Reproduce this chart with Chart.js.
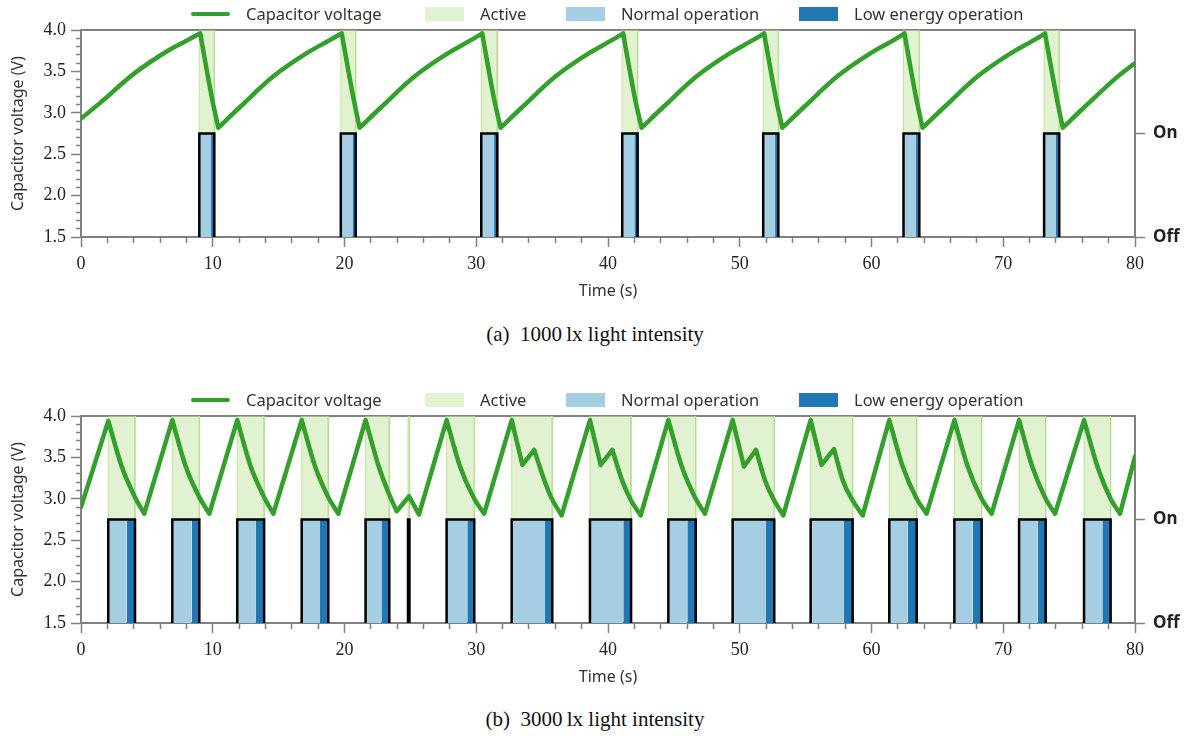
<!DOCTYPE html>
<html lang="en">
<head>
<meta charset="UTF-8">
<title>Capacitor voltage at 1000 lx and 3000 lx</title>
<script src="https://cdn.jsdelivr.net/npm/chart.js@4.4.0/dist/chart.umd.min.js"></script>
<style>
    body {
        margin: 0;
        background: #fff;
        width: 1190px;
        height: 736px;
        position: relative;
        overflow: hidden;
        font-family: "Noto Sans", sans-serif;
    }
    .panel {
        position: absolute;
        left: 0;
        width: 1190px;
        height: 305px;
    }
    .panel canvas {
        position: absolute;
        left: 0;
        top: 0;
    }
    .item {
        position: absolute;
        top: 2px;
        height: 23px;
        display: flex;
        align-items: center;
        font-size: 16.5px;
        color: #333;
        white-space: nowrap;
    }
    .swatch {
        width: 39px;
        height: 14px;
        margin-right: 16px;
    }
    .swatch.line {
        height: 4px;
        border-radius: 2px;
    }
    .caption {
        position: absolute;
        left: 0;
        width: 1190px;
        text-align: center;
        font-family: "Liberation Serif", serif;
        font-size: 21px;
        color: #111;
    }
</style>
</head>
<body>
    <div class="panel" id="panel1000" style="top:0px">
        <canvas id="chart1000" width="1190" height="305"></canvas>
    </div>
    <div class="caption" style="top:322px">(a)&ensp;1000&thinsp;lx light intensity</div>

    <div class="panel" id="panel3000" style="top:386px">
        <canvas id="chart3000" width="1190" height="305"></canvas>
    </div>
    <div class="caption" style="top:707px">(b)&ensp;3000&thinsp;lx light intensity</div>

<script>
// (a) 1000 lx: capacitor voltage trace
const time1000 = [0, 1.45, 4.0, 6.5, 8.0, 9.05, 9.45, 9.95, 10.42,
    12.07, 14.6, 17.13, 18.9, 19.79, 20.19, 20.69, 21.15,
    22.8, 25.33, 27.86, 29.63, 30.45, 30.85, 31.35, 31.85,
    33.5, 36.03, 38.56, 40.33, 41.15, 41.55, 42.05, 42.55,
    44.2, 46.73, 49.26, 51.03, 51.85, 52.25, 52.75, 53.23,
    54.88, 57.41, 59.94, 61.71, 62.5, 62.9, 63.4, 63.88,
    65.53, 68.06, 70.59, 72.36, 73.17, 73.57, 74.07, 74.52,
    76.17, 78.7, 80];
const volt1000 = [2.93, 3.12, 3.47, 3.74, 3.87, 3.96, 3.6, 3.17, 2.82,
    3.07, 3.44, 3.72, 3.88, 3.96, 3.6, 3.17, 2.82,
    3.07, 3.44, 3.72, 3.88, 3.96, 3.6, 3.17, 2.82,
    3.07, 3.44, 3.72, 3.88, 3.96, 3.6, 3.17, 2.82,
    3.07, 3.44, 3.72, 3.88, 3.96, 3.6, 3.17, 2.82,
    3.07, 3.44, 3.72, 3.88, 3.96, 3.6, 3.17, 2.82,
    3.07, 3.44, 3.72, 3.88, 3.96, 3.6, 3.17, 2.82,
    3.07, 3.44, 3.6];
// (a) active periods: start, switch to low energy, end
const onStart1000 = [8.98, 19.72, 30.38, 41.08, 51.78, 62.43, 73.1];
const lowStart1000 = [9.87, 20.6, 31.35, 42.0, 52.68, 63.38, 74.0];
const onEnd1000 = [10.12, 20.85, 31.6, 42.25, 52.93, 63.63, 74.25];

// (b) 3000 lx: capacitor voltage trace
const time3000 = [0, 2.07, 3.09, 4.10, 4.80, 6.93, 7.95, 8.98, 9.74,
    11.86, 12.88, 13.90, 14.60, 16.75, 17.77, 18.77, 19.53,
    21.60, 22.60, 23.40, 23.96, 24.90, 25.65, 27.75, 28.77, 29.85, 30.60,
    32.69, 33.50, 34.40, 35.20, 35.77, 36.48, 38.63, 39.44, 40.33, 41.10, 41.75, 42.48,
    44.58, 45.60, 46.66, 47.36, 49.46, 50.32, 51.23, 51.95, 52.62, 53.30,
    55.38, 56.21, 57.15, 57.85, 58.57, 59.33, 61.35, 62.37, 63.43, 64.18,
    66.29, 67.30, 68.36, 69.12, 71.20, 72.20, 73.22, 73.93,
    76.13, 77.15, 78.15, 78.86, 80];
const volt3000 = [2.90, 3.94, 3.39, 3.02, 2.82, 3.95, 3.39, 3.02, 2.82,
    3.95, 3.39, 3.02, 2.82, 3.95, 3.39, 3.02, 2.82,
    3.95, 3.39, 3.05, 2.85, 3.03, 2.81, 3.95, 3.39, 3.00, 2.82,
    3.95, 3.41, 3.59, 3.21, 2.99, 2.80, 3.95, 3.41, 3.59, 3.21, 2.98, 2.80,
    3.95, 3.39, 3.00, 2.82, 3.95, 3.39, 3.59, 3.21, 2.98, 2.80,
    3.95, 3.41, 3.60, 3.21, 2.98, 2.80, 3.95, 3.39, 3.00, 2.82,
    3.95, 3.39, 3.00, 2.82, 3.95, 3.39, 3.00, 2.82,
    3.95, 3.39, 3.00, 2.82, 3.51];
// (b) active periods
const onStart3000 = [2.07, 6.93, 11.86, 16.75, 21.6, 24.82, 27.75, 32.69, 38.63, 44.58, 49.46, 55.38, 61.35, 66.29, 71.2, 76.13];
const lowStart3000 = [3.47, 8.40, 13.28, 18.14, 22.8, 24.93, 29.32, 35.22, 41.16, 46.02, 51.99, 57.91, 62.74, 67.68, 72.61, 77.52];
const onEnd3000 = [4.10, 8.98, 13.9, 18.77, 23.4, 24.93, 29.85, 35.77, 41.75, 46.66, 52.62, 58.57, 63.43, 68.36, 73.22, 78.15];

// right axis state levels (in voltage units) and their labels
const stateLevels = [1.5, 2.75];
const stateLabels = ['Off', 'On'];

const legendLabels = ['Capacitor voltage', 'Active', 'Normal operation', 'Low energy operation'];

const GREEN = '#33a02c';
const ACTIVE = 'rgba(178, 223, 138, 0.4)';
const ACTIVE_EDGE = 'rgba(178, 223, 138, 0.8)';
const NORMAL = '#a6cee3';
const LOW = '#1f78b4';
const AXIS = '#808080';
const V_MIN = 1.5, V_MAX = 4.0, ON = stateLevels[1];

// corner points of a box, left edge up, across the top, right edge down
function box(x0, x1, y0, y1) {
    return [{x: x0, y: y0}, {x: x0, y: y1}, {x: x1, y: y1}, {x: x1, y: y0}];
}

// break the trace at every turning point so each rise / fall is smoothed on its own
function traceWithBreaks(t, v) {
    const pts = [];
    for (let i = 0; i < t.length; i++) {
        pts.push({x: t[i], y: v[i]});
        const turn = i > 0 && i < t.length - 1 && (v[i] - v[i - 1]) * (v[i + 1] - v[i]) < 0;
        if (turn) {
            pts.push({x: t[i], y: null});
            pts.push({x: t[i], y: v[i]});
        }
    }
    return pts;
}

function buildDatasets(t, v, onStart, lowStart, onEnd) {
    const sets = [{
        data: traceWithBreaks(t, v),
        borderColor: GREEN,
        borderWidth: 4.5,
        borderJoinStyle: 'round',
        borderCapStyle: 'round',
        pointRadius: 0,
        cubicInterpolationMode: 'monotone',
        tension: 0.4,
        spanGaps: false,
        fill: false,
        order: 0
    }];
    const outline = [];
    onStart.forEach((s, i) => {
        const e = onEnd[i], l = lowStart[i];
        sets.push({
            data: box(s, e, ON, V_MAX),
            backgroundColor: ACTIVE,
            borderColor: ACTIVE_EDGE,
            borderWidth: 1,
            pointRadius: 0,
            fill: {value: ON},
            order: 4
        });
        sets.push({
            data: box(s, l, V_MIN, ON),
            backgroundColor: NORMAL,
            borderColor: 'rgba(0,0,0,0)',
            borderWidth: 0,
            pointRadius: 0,
            fill: {value: V_MIN},
            order: 3
        });
        if (e > l) {
            sets.push({
                data: box(l, e, V_MIN, ON),
                backgroundColor: LOW,
                borderColor: 'rgba(0,0,0,0)',
                borderWidth: 0,
                pointRadius: 0,
                fill: {value: V_MIN},
                order: 2
            });
        }
        outline.push(...box(s, e, V_MIN, ON), {x: e, y: null});
    });
    sets.push({
        data: outline,
        borderColor: '#000',
        borderWidth: 2.5,
        borderJoinStyle: 'miter',
        pointRadius: 0,
        fill: false,
        spanGaps: false,
        order: 1
    });
    return sets;
}

const tickFont = {family: "'Liberation Serif', 'Times New Roman', serif", size: 18};
const titleFont = {family: "'Noto Sans', sans-serif", size: 16};
const isMajorX = c => c.tick && Math.round(c.tick.value) % 10 === 0;
const isMajorY = c => c.tick && Math.round(c.tick.value * 10) % 5 === 0;

function makeChart(id, datasets) {
    return new Chart(document.getElementById(id), {
        type: 'line',
        data: {datasets: datasets},
        options: {
            responsive: false,
            animation: false,
            events: [],
            layout: {padding: 0},
            plugins: {
                legend: {display: false},
                tooltip: {enabled: false}
            },
            scales: {
                x: {
                    type: 'linear',
                    position: 'bottom',
                    min: 0,
                    max: 80,
                    z: 1,
                    ticks: {
                        stepSize: 2,
                        autoSkip: false,
                        maxRotation: 0,
                        padding: 6,
                        color: '#222',
                        font: tickFont,
                        callback: v => Math.round(v) % 10 === 0 ? String(v) : ''
                    },
                    grid: {
                        drawOnChartArea: false,
                        tickLength: 10,
                        tickColor: AXIS,
                        tickWidth: 1.5,
                        tickBorderDash: c => isMajorX(c) ? [] : [5, 5]
                    },
                    border: {color: AXIS, width: 2},
                    title: {
                        display: true,
                        text: 'Time (s)',
                        color: '#333',
                        font: titleFont,
                        padding: {top: 0, bottom: 4}
                    },
                    afterFit: s => { s.height = 68; }
                },
                xTop: {
                    type: 'linear',
                    position: 'top',
                    min: 0,
                    max: 80,
                    z: 1,
                    ticks: {display: false},
                    grid: {drawOnChartArea: false, drawTicks: false},
                    border: {color: AXIS, width: 2},
                    afterFit: s => { s.height = 30; }
                },
                y: {
                    position: 'left',
                    min: V_MIN,
                    max: V_MAX,
                    z: 1,
                    ticks: {
                        stepSize: 0.1,
                        autoSkip: false,
                        padding: 5,
                        color: '#222',
                        font: tickFont,
                        callback: v => Math.round(v * 10) % 5 === 0 ? (Math.round(v * 10) / 10).toFixed(1) : ''
                    },
                    grid: {
                        drawOnChartArea: false,
                        tickLength: 10,
                        tickColor: AXIS,
                        tickWidth: 1.5,
                        tickBorderDash: c => isMajorY(c) ? [] : [5, 5],
                        tickBorderDashOffset: 5
                    },
                    border: {color: AXIS, width: 2},
                    title: {
                        display: true,
                        text: 'Capacitor voltage (V)',
                        color: '#333',
                        font: titleFont,
                        padding: {top: 9, bottom: 0}
                    },
                    afterFit: s => { s.width = 81; }
                },
                yState: {
                    position: 'right',
                    min: V_MIN,
                    max: V_MAX,
                    z: 1,
                    afterBuildTicks: s => { s.ticks = stateLevels.map(v => ({value: v})); },
                    ticks: {
                        autoSkip: false,
                        padding: 8,
                        color: '#222',
                        font: {family: "'Noto Sans', sans-serif", size: 17, weight: 'bold'},
                        callback: v => stateLabels[stateLevels.indexOf(v)]
                    },
                    grid: {
                        drawOnChartArea: false,
                        tickLength: 10,
                        tickColor: AXIS,
                        tickWidth: 1.5
                    },
                    border: {color: AXIS, width: 2},
                    afterFit: s => { s.width = 55; }
                }
            }
        }
    });
}

// legend above each panel
function addLegend(panelId) {
    const panel = document.getElementById(panelId);
    const swatchColors = [GREEN, ACTIVE, NORMAL, LOW];
    const lefts = [191, 425, 566, 799];
    legendLabels.forEach((label, i) => {
        const item = document.createElement('div');
        item.className = 'item';
        item.style.left = lefts[i] + 'px';
        const sw = document.createElement('span');
        sw.className = i === 0 ? 'swatch line' : 'swatch';
        sw.style.background = swatchColors[i];
        const txt = document.createElement('span');
        txt.textContent = label;
        item.appendChild(sw);
        item.appendChild(txt);
        panel.appendChild(item);
    });
}

makeChart('chart1000', buildDatasets(time1000, volt1000, onStart1000, lowStart1000, onEnd1000));
makeChart('chart3000', buildDatasets(time3000, volt3000, onStart3000, lowStart3000, onEnd3000));
addLegend('panel1000');
addLegend('panel3000');
</script>
</body>
</html>
